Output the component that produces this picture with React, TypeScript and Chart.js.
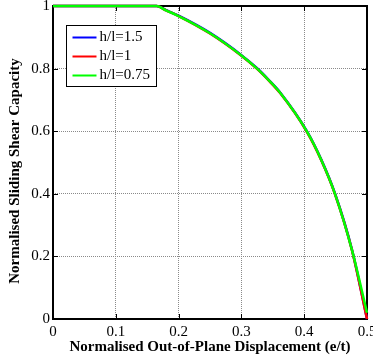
import React, { useEffect, useRef } from "react";
import { Chart, registerables } from "chart.js";

Chart.register(...registerables);

// Data
const xValues = [0, 0.165, 0.18, 0.2, 0.25, 0.3, 0.325, 0.343, 0.362, 0.404, 0.427, 0.449, 0.476, 0.5];
const blueValues = [1, 1, 0.987, 0.969, 0.914, 0.843, 0.801, 0.765, 0.723, 0.601, 0.51, 0.401, 0.222, 0];
const redValues = [1, 1, 0.986, 0.968, 0.912, 0.841, 0.799, 0.763, 0.721, 0.599, 0.508, 0.399, 0.22, 0];
const greenValues = [1, 1, 0.986, 0.968, 0.913, 0.842, 0.8, 0.764, 0.722, 0.6, 0.509, 0.4, 0.221, 0.02];
const seriesLabels = ["h/l=1.5", "h/l=1", "h/l=0.75"];
const seriesColors = ["#0000ff", "#ff0000", "#00ff00"];
const xTicks = [0, 0.1, 0.2, 0.3, 0.4, 0.5];
const yTicks = [0, 0.2, 0.4, 0.6, 0.8, 1];
const xTitle = "Normalised Out-of-Plane Displacement (e/t)";
const yTitle = "Normalised Sliding Shear Capacity";

const FONT = "'Liberation Serif', 'Times New Roman', serif";

const matlabPlugin = {
  id: "matlabFrame",
  beforeDatasetsDraw(chart: any) {
    const { ctx, chartArea } = chart;
    const { left, right, top, bottom } = chartArea;
    const xs = chart.scales.x;
    const ys = chart.scales.y;
    ctx.save();
    ctx.strokeStyle = "#000";
    ctx.lineWidth = 1;
    ctx.beginPath();
    xTicks.forEach((v) => {
      const px = Math.round(xs.getPixelForValue(v)) + 0.5;
      ctx.moveTo(px, bottom);
      ctx.lineTo(px, bottom - 5);
      ctx.moveTo(px, top);
      ctx.lineTo(px, top + 5);
    });
    yTicks.forEach((v) => {
      const py = Math.round(ys.getPixelForValue(v)) + 0.5;
      ctx.moveTo(left, py);
      ctx.lineTo(left + 5, py);
      ctx.moveTo(right, py);
      ctx.lineTo(right - 5, py);
    });
    ctx.stroke();
    ctx.lineWidth = 2;
    ctx.strokeRect(left, top, right - left, bottom - top);
    ctx.restore();
  },
  afterDraw(chart: any) {
    const { ctx, chartArea } = chart;
    const { left, right, top } = chartArea;
    ctx.save();
    ctx.fillStyle = "#000";
    ctx.font = `bold 15px ${FONT}`;
    ctx.textAlign = "center";
    ctx.textBaseline = "middle";
    ctx.fillText(xTitle, (left + right) / 2, 347);
    ctx.save();
    ctx.translate(15, 171);
    ctx.rotate(-Math.PI / 2);
    ctx.fillText(yTitle, 0, 0);
    ctx.restore();
    // legend
    const bx = left + 13.5;
    const by = top + 19.5;
    const bw = 90;
    const bh = 61;
    ctx.fillStyle = "#fff";
    ctx.fillRect(bx, by, bw, bh);
    ctx.strokeStyle = "#000";
    ctx.lineWidth = 1;
    ctx.strokeRect(bx, by, bw, bh);
    ctx.font = `15px ${FONT}`;
    ctx.textAlign = "left";
    ctx.textBaseline = "middle";
    seriesLabels.forEach((label, i) => {
      const y = by + 12 + i * 19;
      ctx.strokeStyle = seriesColors[i];
      ctx.lineWidth = 2;
      ctx.beginPath();
      ctx.moveTo(bx + 6, y);
      ctx.lineTo(bx + 30, y);
      ctx.stroke();
      ctx.fillStyle = "#000";
      ctx.fillText(label, bx + 33, y);
    });
    ctx.restore();
  },
};

export default function App() {
  const canvasRef = useRef<HTMLCanvasElement | null>(null);

  useEffect(() => {
    const canvas = canvasRef.current;
    if (!canvas) return;
    const seriesValues = [blueValues, redValues, greenValues];
    const chart = new Chart(canvas, {
      type: "line",
      data: {
        datasets: seriesValues.map((vals, i) => ({
          label: seriesLabels[i],
          data: xValues.map((x, j) => ({ x, y: vals[j] })),
          borderColor: seriesColors[i],
          backgroundColor: seriesColors[i],
          borderWidth: 2.5,
          pointRadius: 0,
          cubicInterpolationMode: "monotone" as const,
          fill: false,
          clip: false as any,
          order: 3 - i,
        })),
      },
      options: {
        responsive: false,
        animation: false,
        devicePixelRatio: 1,
        layout: { padding: { top: 6, right: 6, left: 0, bottom: 0 } },
        plugins: { legend: { display: false }, tooltip: { enabled: false } },
        scales: {
          x: {
            type: "linear",
            min: 0,
            max: 0.5,
            afterBuildTicks: (s: any) => {
              s.ticks = xTicks.map((v) => ({ value: v }));
            },
            afterFit: (s: any) => {
              s.height = 44;
              s.paddingLeft = 0;
              s.paddingRight = 0;
            },
            ticks: {
              font: { family: FONT, size: 15 },
              color: "#000",
              padding: 4,
              maxRotation: 0,
              autoSkip: false,
              callback: (v: any) => String(v),
            },
            grid: { color: "#8a8a8a", drawTicks: false, lineWidth: 1 },
            border: { display: false, dash: [1, 1] },
          },
          y: {
            type: "linear",
            min: 0,
            max: 1,
            afterBuildTicks: (s: any) => {
              s.ticks = yTicks.map((v) => ({ value: v }));
            },
            afterFit: (s: any) => {
              s.width = 53;
              s.paddingTop = 0;
              s.paddingBottom = 0;
            },
            ticks: {
              font: { family: FONT, size: 15 },
              color: "#000",
              padding: 3,
              autoSkip: false,
              callback: (v: any) => String(v),
            },
            grid: { color: "#8a8a8a", drawTicks: false, lineWidth: 1 },
            border: { display: false, dash: [1, 1] },
          },
        },
      },
      plugins: [matlabPlugin],
    });
    return () => chart.destroy();
  }, []);

  return (
    <div style={{ position: "fixed", left: 0, top: 0, width: 373, height: 363, background: "#fff" }}>
      <canvas ref={canvasRef} width={373} height={363} style={{ display: "block" }} />
    </div>
  );
}
